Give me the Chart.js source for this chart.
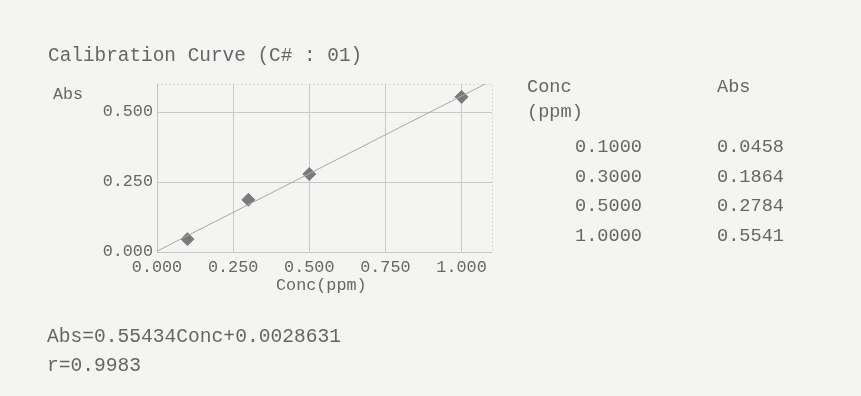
<!DOCTYPE html>
<html>
<head>
  <meta charset="utf-8" />
  <title>Calibration Curve</title>
  <script src="https://cdn.jsdelivr.net/npm/chart.js"></script>
  <style>
    body { margin: 0; background: #f4f4f2; font-family: "Liberation Mono", "Courier New", monospace; color: #666; }
    #wrap { position: relative; width: 861px; height: 396px; overflow: hidden; }
    #chart { position: absolute; left: 0; top: 0; }
    .txt { position: absolute; white-space: pre; line-height: 1; }
    #title { left: 48px; top: 47px; font-size: 19.4px; }
    #yTitle { left: 53px; top: 87px; font-size: 16.7px; }
    #xTitle { left: 276px; top: 278px; font-size: 16.8px; }
    #eq { left: 47px; top: 328px; font-size: 19.6px; }
    #rVal { left: 47px; top: 357px; font-size: 19.6px; }
    #table { position: absolute; left: 527px; top: 79px; font-size: 18.6px; }
    #table div { position: absolute; white-space: pre; line-height: 1; }
  </style>
</head>
<body>
<div id="wrap">
  <canvas id="chart" width="861" height="396"></canvas>
  <div class="txt" id="title">Calibration Curve (C# : 01)</div>
  <div class="txt" id="yTitle">Abs</div>
  <div class="txt" id="xTitle">Conc(ppm)</div>
  <div class="txt" id="eq">Abs=0.55434Conc+0.0028631</div>
  <div class="txt" id="rVal">r=0.9983</div>
  <div id="table"></div>
</div>
<script>
// standards
const conc = [0.1, 0.3, 0.5, 1.0];
const abs = [0.0458, 0.1864, 0.2784, 0.5541];

// fitted line ends (Abs = 0.55434 Conc + 0.0028631)
const fitX = [0, 1.1];
const fitY = [0.0029, 0.6126];

const xTicks = [0, 0.25, 0.5, 0.75, 1.0];
const yTicks = [0, 0.25, 0.5];

// table to the right
const table = document.getElementById('table');
function cell(text, left, top) {
  const d = document.createElement('div');
  d.textContent = text;
  d.style.left = left + 'px';
  d.style.top = top + 'px';
  table.appendChild(d);
}
cell('Conc', 0, 0);
cell('Abs', 190, 0);
cell('(ppm)', 0, 25);
conc.forEach((c, i) => {
  cell(c.toFixed(4), 48, 60 + i * 29.5);
  cell(abs[i].toFixed(4), 190, 60 + i * 29.5);
});

const frame = {
  id: 'frame',
  afterDraw(chart) {
    const a = chart.chartArea, ctx = chart.ctx;
    ctx.save();
    ctx.strokeStyle = '#bdbdbd';
    ctx.lineWidth = 1;
    ctx.setLineDash([1, 3]);
    ctx.strokeRect(a.left + 0.5, a.top + 0.5, a.right - a.left, a.bottom - a.top);
    ctx.restore();
  }
};

const tickFont = { family: '"Liberation Mono", "Courier New", monospace', size: 16.8 };

new Chart(document.getElementById('chart'), {
  type: 'scatter',
  data: {
    datasets: [
      {
        type: 'line',
        data: fitX.map((x, i) => ({ x, y: fitY[i] })),
        borderColor: '#a8a8a8',
        borderWidth: 1,
        pointRadius: 0,
        fill: false
      },
      {
        data: conc.map((x, i) => ({ x, y: abs[i] })),
        pointStyle: 'rectRot',
        pointRadius: 6.5,
        backgroundColor: '#7a7a7a',
        borderColor: '#7a7a7a',
        borderWidth: 1
      }
    ]
  },
  plugins: [frame],
  options: {
    responsive: false,
    animation: false,
    layout: { padding: { left: 0, top: 84, right: 369, bottom: 104 } },
    plugins: { legend: { display: false }, tooltip: { enabled: false } },
    scales: {
      x: {
        type: 'linear',
        min: 0,
        max: 1.1,
        afterFit: s => { s.height = 40; },
        afterBuildTicks: s => { s.ticks = xTicks.map(v => ({ value: v })); },
        grid: { color: '#c9c9c9', drawTicks: false },
        border: { display: false },
        ticks: { color: '#666', font: tickFont, padding: 5, callback: v => v.toFixed(3), maxRotation: 0 }
      },
      y: {
        min: 0,
        max: 0.6,
        afterFit: s => { s.width = 157; },
        afterBuildTicks: s => { s.ticks = yTicks.map(v => ({ value: v })); },
        grid: { color: '#c9c9c9', drawTicks: false },
        border: { display: false },
        ticks: { color: '#666', font: tickFont, padding: 4, callback: v => v.toFixed(3) }
      }
    }
  }
});
</script>
</body>
</html>
